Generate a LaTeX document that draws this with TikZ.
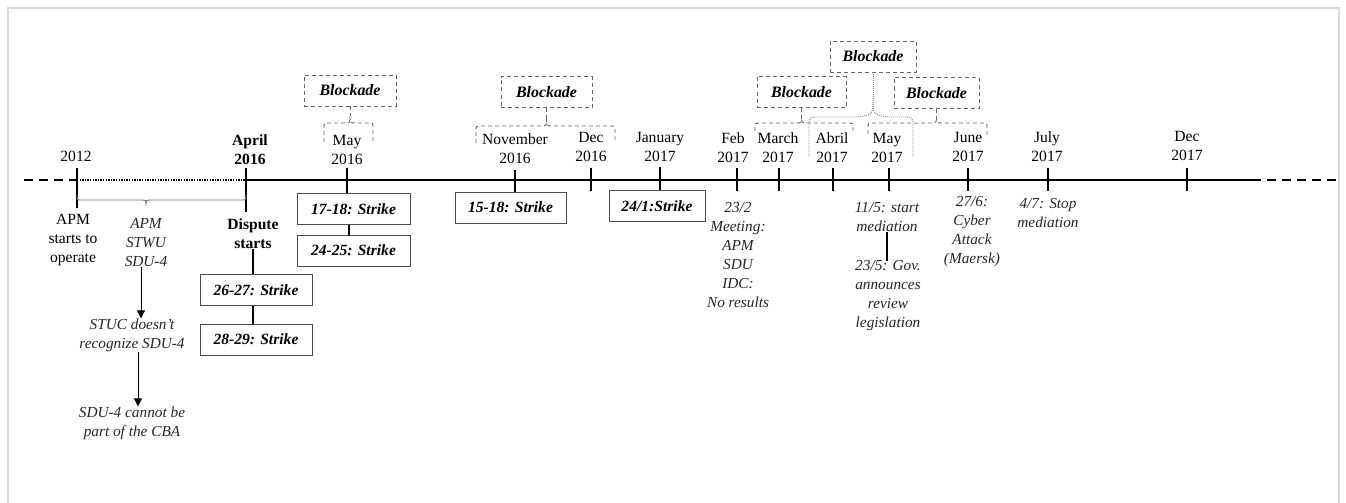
\documentclass[tikz,border=0pt]{standalone}
\usepackage{fontspec}
\setmainfont{Liberation Serif}
\usetikzlibrary{arrows.meta}

% curly brace: x-left, x-centre, x-right, y, left leg end, right leg end, tip name
\newcommand{\mybrace}[7]{%
  \draw[brc] (#1,#5) -- (#1,#4+5) .. controls (#1,#4) .. (#1+5,#4) -- (#2-6,#4)
    .. controls (#2,#4) .. (#2,#4-7) .. controls (#2,#4) .. (#2+6,#4)
    -- (#3-5,#4) .. controls (#3,#4) .. (#3,#4+5) -- (#3,#6);
  \coordinate (#7) at (#2,#4-7);}

\begin{document}
\begin{tikzpicture}[x=1pt,y=-1pt,
  lbl/.style={inner sep=0pt, align=center, font=\fontsize{15.6}{19}\selectfont},
  lblb/.style={lbl, font=\fontsize{15.6}{19}\selectfont\bfseries},
  note/.style={lbl, font=\fontsize{15.3}{19}\selectfont\itshape, text=black!85},
  strike/.style={draw=black!70, line width=0.9pt, inner sep=0pt, minimum height=31pt,
    font=\fontsize{15.6}{19}\selectfont\bfseries\itshape},
  blk/.style={draw=black!60, line width=0.9pt, dash pattern=on 4pt off 3pt, inner sep=0pt,
    minimum height=31pt, font=\fontsize{15.9}{19}\selectfont\bfseries\itshape},
  brc/.style={draw=black!60, line width=0.9pt, dash pattern=on 4pt off 3pt},
  axis/.style={line width=1.6pt},
  arr/.style={line width=0.8pt, -{Triangle[length=8pt,width=8pt]}},
  link/.style={line width=1.6pt}]

\useasboundingbox (0,0) rectangle (1346,503);
\draw[black!15, line width=2pt] (8,503) -- (8,8) -- (1339,8) -- (1339,503);

% ---------- time axis ----------
\coordinate (L) at (24,180);
\coordinate (t12) at (77,180);
\coordinate (a16) at (246,180);
\coordinate (m16) at (347,180);
\coordinate (n16) at (515,180);
\coordinate (d16) at (591,180);
\coordinate (j17) at (660,180);
\coordinate (f17) at (737,180);
\coordinate (mr17) at (779,180);
\coordinate (ab17) at (833,180);
\coordinate (my17) at (889,180);
\coordinate (jn17) at (968,180);
\coordinate (jl17) at (1048,180);
\coordinate (dc17) at (1187,180);
\coordinate (R0) at (1252,180);
\coordinate (R) at (1341,180);

\draw[axis, dash pattern=on 9pt off 6pt] (L) -- (t12);
\draw[line width=1.3pt, dash pattern=on 1.3pt off 1.3pt] (t12) -- (a16);
\draw[axis] (a16) -- (R0);
\draw[axis, dash pattern=on 9pt off 6pt] (R0) -- (R);

\draw[axis] ([yshift=12pt]t12) -- ([yshift=-28pt]t12);
\draw[axis] ([yshift=12pt]a16) -- ([yshift=-32pt]a16);
\foreach \c in {d16,f17,mr17,ab17,my17,jn17,jl17,dc17}
  \draw[axis] ([yshift=12pt]\c) -- ([yshift=-11pt]\c);

% ---------- dates ----------
\node[lbl]  (l12)  at (76,156)    {2012};
\node[lblb] (la16) at (250,150)   {April\\2016};
\node[lbl]  (lm16) at (347,150)   {May\\2016};
\node[lbl]  (ln16) at (515,149)   {November\\2016};
\node[lbl]  (ld16) at (591,147)   {Dec\\2016};
\node[lbl]  (lj17) at (660,147)   {January\\2017};
\node[lbl]  (lf17) at (733,148)   {Feb\\2017};
\node[lbl]  (lmr17) at (778,148)  {March\\2017};
\node[lbl]  (lab17) at (832,148)  {Abril\\2017};
\node[lbl]  (lmy17) at (887,148)  {May\\2017};
\node[lbl]  (ljn17) at (968,147)  {June\\2017};
\node[lbl]  (ljl17) at (1047,147) {July\\2017};
\node[lbl]  (ldc17) at (1187,146) {Dec\\2017};

% ---------- strikes ----------
\node[strike, minimum width=113pt] (s1718) at (353.5,209)   {17-18: Strike};
\node[strike, minimum width=113pt] (s2425) at (353.5,250.5) {24-25: Strike};
\node[strike, minimum width=112pt] (s2627) at (256,290)     {26-27: Strike};
\node[strike, minimum width=112pt] (s2829) at (256,339.5)   {28-29: Strike};
\node[strike, minimum width=111pt] (s1518) at (510.5,207.5) {15-18: Strike};
\node[strike, minimum width=96pt]  (s241)  at (657,206)     {24/1:Strike};

\draw[link] ([yshift=12pt]m16) -- (m16 |- s1718.north);
\draw[link] ([yshift=10pt]n16) -- (n16 |- s1518.north);
\draw[link] ([yshift=13pt]j17) -- (j17 |- s241.north);
\draw[link] ([xshift=-4.5pt]s1718.south) -- ([xshift=-4.5pt]s2425.north);
\draw[link] ([xshift=-3pt]s2627.south) -- ([xshift=-3pt]s2829.north);

% ---------- notes below the axis ----------
\node[lbl]  (apm)  at (73,240)  {APM\\starts to\\operate};
\node[note] (grp)  at (146,243) {APM\\STWU\\SDU-4};
\node[lblb] (disp) at (253,234) {Dispute\\starts};
\node[note] (stuc) at (132,335) {STUC doesn’t\\recognize SDU-4};
\node[note] (cba)  at (132,423) {SDU-4 cannot be\\part of the CBA};
\node[note] (meet) at (738,255) {23/2\\Meeting:\\APM\\SDU\\IDC:\\No results};
\node[note] (med)  at (887,217) {11/5: start\\mediation};
\node[note] (gov)  at (888,296) {23/5: Gov.\\announces\\review\\legislation};
\node[note] (cyb)  at (972,232) {27/6:\\Cyber\\Attack\\(Maersk)};
\node[note] (stop) at (1048,213) {4/7: Stop\\mediation};

\draw[link] (disp.south) -- (disp.south |- s2627.north);
\draw[link, line width=1.4pt] (med.south) -- (med.south |- gov.north);
\draw[arr] ([xshift=-5pt]grp.south) -- ([xshift=-5pt]grp.south |- stuc.north);
\draw[arr] ([xshift=6pt]stuc.south) -- ([xshift=6pt]stuc.south |- cba.north);

% bracket grouping 2012 to April 2016
\draw[black!55, line width=0.9pt] (77,195) .. controls (77,200) .. (81,200) -- (141,200)
  .. controls (146,200) .. (146,206) .. controls (146,200) .. (151,200) -- (242,200)
  .. controls (246,200) .. (246,194);

% ---------- blockades ----------
\node[blk, minimum width=92pt] (b1) at (350,90.5)   {Blockade};
\node[blk, minimum width=91pt] (b2) at (546.5,92)   {Blockade};
\node[blk, minimum width=86pt] (b3) at (873,56.5)   {Blockade};
\node[blk, minimum width=89pt] (b4) at (801.5,92)   {Blockade};
\node[blk, minimum width=85pt] (b5) at (936.5,93)   {Blockade};

\mybrace{324}{350}{373}{123}{142}{142}{k1}
\mybrace{476}{546.5}{615}{126}{143}{142}{k2}
\mybrace{755}{801.5}{853}{123}{131}{134}{k4}
\mybrace{868}{936.5}{987}{123}{134}{138}{k5}
\draw[brc] (b1.south) -- (k1);
\draw[brc] (b2.south) -- (k2);
\draw[brc] (b4.south) -- (k4);
\draw[brc] (b5.south) -- (k5);

% wide brace under the top blockade, spanning April to May 2017
\coordinate (k3) at (873,98);
\draw[black!45, line width=0.9pt, dash pattern=on 1pt off 1pt] (b3.south) -- (k3);
\draw[black!45, line width=0.9pt, dash pattern=on 1pt off 1pt]
  (k3) .. controls (873,115) .. (857,117) -- (819,117) .. controls (809,117) .. (809,127) -- (809,157);
\draw[black!45, line width=0.9pt, dash pattern=on 1pt off 1pt]
  (k3) .. controls (873,115) .. (889,117) -- (903,117) .. controls (913,117) .. (913,127) -- (913,157);

\end{tikzpicture}
\end{document}
